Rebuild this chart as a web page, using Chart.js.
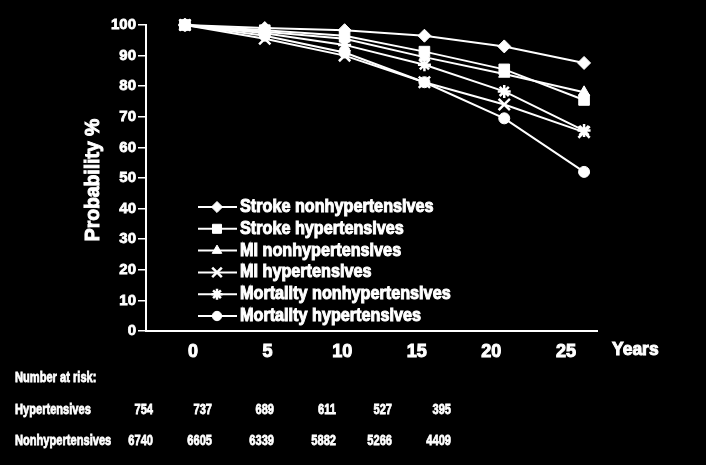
<!DOCTYPE html>
<html>
<head>
<meta charset="utf-8">
<script src="https://cdn.jsdelivr.net/npm/chart.js@4.4.1/dist/chart.umd.min.js"></script>
<style>
  html, body { margin: 0; padding: 0; background: #000; }
  canvas { display: block; }
</style>
</head>
<body>
<canvas id="myChart" width="706" height="465"></canvas>
<script>
// data
const years = [0, 5, 10, 15, 20, 25];
const strokeNonhyp = [100, 99.0, 98.3, 96.5, 93.0, 87.6];
const strokeHyp = [100, 98.3, 96.5, 91.3, 85.5, 75.5];
const miNonhyp = [100, 97.8, 95.5, 89.5, 84.0, 78.0];
const miHyp = [100, 95.5, 90.0, 81.3, 74.0, 65.0];
const mortNonhyp = [100, 97.3, 93.5, 87.0, 78.3, 65.5];
const mortHyp = [100, 96.5, 91.0, 81.3, 69.5, 52.0];
const riskHyp = [754, 737, 689, 611, 527, 395];
const riskNonhyp = [6740, 6605, 6339, 5882, 5266, 4409];

const FONT = "'Liberation Sans', Arial, sans-serif";
Chart.defaults.color = '#fff';
Chart.defaults.font.family = FONT;
Chart.defaults.font.weight = 'bold';

const toPoints = vals => vals.map((v, i) => ({ x: years[i], y: v }));

function series(label, vals, style, radius, bw) {
  return {
    label: label,
    data: toPoints(vals),
    borderColor: '#fff',
    backgroundColor: '#fff',
    borderWidth: 2,
    pointStyle: style,
    pointRadius: radius,
    pointBorderWidth: bw,
    pointBackgroundColor: '#fff',
    pointBorderColor: '#fff',
    tension: 0,
    clip: false
  };
}

// draws a condensed, heavy bold text
function squeezed(ctx, text, x, y, size, sx, align, heavy) {
  ctx.save();
  ctx.font = 'bold ' + size + 'px ' + FONT;
  ctx.textBaseline = 'middle';
  ctx.textAlign = align || 'left';
  ctx.translate(x, y);
  ctx.scale(sx, 1);
  ctx.fillText(text, 0, 0);
  ctx.lineWidth = heavy || 0.8;
  ctx.strokeStyle = '#fff';
  ctx.strokeText(text, 0, 0);
  ctx.restore();
}

const extras = {
  id: 'extras',
  afterDraw(chart) {
    const ctx = chart.ctx;
    ctx.fillStyle = '#fff';
    ctx.strokeStyle = '#fff';

    // legend inside the plot
    chart.data.datasets.forEach((ds, i) => {
      const y = 207 + i * 21.8;
      ctx.save();
      ctx.lineWidth = 2;
      ctx.beginPath();
      ctx.moveTo(198, y);
      ctx.lineTo(237, y);
      ctx.stroke();
      ctx.lineWidth = ds.pointBorderWidth;
      Chart.helpers.drawPoint(ctx, {
        pointStyle: ds.pointStyle,
        radius: ds.pointRadius * 0.85,
        borderWidth: ds.pointBorderWidth
      }, 217, y);
      ctx.restore();
      squeezed(ctx, ds.label, 240, y, 18, 0.9, 'left', 1);
    });

    // y title
    ctx.save();
    ctx.translate(93, 180);
    ctx.rotate(-Math.PI / 2);
    squeezed(ctx, 'Probability %', 0, 0, 21, 0.92, 'center', 1);
    ctx.restore();

    // x title
    squeezed(ctx, 'Years', 612, 350, 18, 0.97, 'left', 1);

    // number at risk table
    const colRight = [153, 212, 274, 336, 392, 451];
    squeezed(ctx, 'Number at risk:', 15, 378, 15, 0.74);
    squeezed(ctx, 'Hypertensives', 15, 410, 15, 0.74);
    squeezed(ctx, 'Nonhypertensives', 15, 441, 15, 0.74);
    riskHyp.forEach((v, i) => squeezed(ctx, String(v), colRight[i], 410, 15, 0.74, 'right'));
    riskNonhyp.forEach((v, i) => squeezed(ctx, String(v), colRight[i], 441, 15, 0.74, 'right'));
  }
};

const ctx = document.getElementById('myChart').getContext('2d');

const myChart = new Chart(ctx, {
  type: 'line',
  data: {
    datasets: [
      series('Stroke nonhypertensives', strokeNonhyp, 'rectRot', 6.5, 1),
      series('Stroke hypertensives', strokeHyp, 'rect', 7.5, 1),
      series('MI nonhypertensives', miNonhyp, 'triangle', 6.5, 1),
      series('MI hypertensives', miHyp, 'crossRot', 8, 2.5),
      series('Mortality nonhypertensives', mortNonhyp, 'star', 6.5, 2.5),
      series('Mortality hypertensives', mortHyp, 'circle', 5.5, 1)
    ]
  },
  options: {
    responsive: false,
    animation: false,
    layout: { padding: { top: 25, right: 109, left: 0, bottom: 0 } },
    scales: {
      x: {
        type: 'linear',
        display: false,
        min: -2.44,
        max: 25.81
      },
      // axis used only for the printed year labels
      x2: {
        type: 'linear',
        position: 'bottom',
        min: -3.15,
        max: 27.08,
        afterBuildTicks: scale => { scale.ticks = years.map(v => ({ value: v })); },
        afterFit: scale => { scale.height = 134; },
        grid: { display: false, drawTicks: false },
        border: { display: true, color: '#fff', width: 2 },
        ticks: {
          padding: 10, font: { size: 18, weight: 'bold' }, color: '#fff', maxRotation: 0,
          textStrokeColor: '#fff', textStrokeWidth: 1
        }
      },
      y: {
        min: 0,
        max: 100,
        afterFit: scale => { scale.width = 146; },
        grid: { display: true, drawOnChartArea: false, drawTicks: true, tickLength: 8, color: '#fff', lineWidth: 1.5 },
        border: { display: true, color: '#fff', width: 2 },
        ticks: {
          stepSize: 10, padding: 2, font: { size: 15, weight: 'bold' }, color: '#fff',
          textStrokeColor: '#fff', textStrokeWidth: 0.8
        }
      }
    },
    plugins: {
      legend: { display: false },
      tooltip: { enabled: false }
    }
  },
  plugins: [extras]
});
</script>
</body>
</html>
